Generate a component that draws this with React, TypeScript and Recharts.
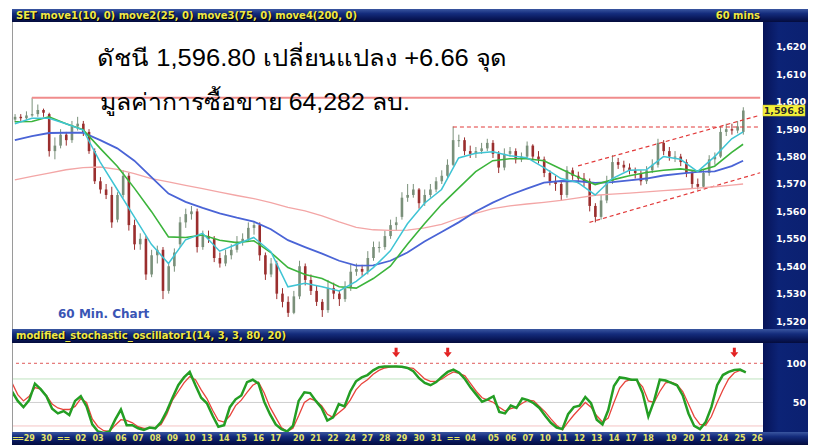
import React from 'react';
import { ComposedChart, Bar, Line, XAxis, YAxis, ReferenceLine, ReferenceDot } from 'recharts';

// ---------------- data ----------------
const openP = [
  1593.5, 1594.5, 1594, 1595, 1595.5, 1597, 1595.5, 1582, 1584, 1588,
  1586, 1591, 1592, 1589, 1582, 1571, 1568, 1566, 1557, 1566,
  1573, 1555, 1548, 1550, 1537, 1544, 1546, 1531, 1540, 1548,
  1556, 1559, 1560, 1547, 1551, 1550, 1543, 1541, 1544, 1546,
  1549, 1550, 1554, 1555, 1544, 1537, 1541, 1530, 1527, 1523,
  1529, 1540, 1535, 1531, 1527, 1524, 1532, 1530, 1528, 1532,
  1538, 1539, 1538, 1543, 1547, 1547, 1551, 1555, 1558, 1565,
  1566, 1568, 1563, 1566, 1568, 1571, 1573, 1577, 1586, 1586,
  1582, 1581, 1582, 1583, 1585, 1581, 1576, 1581, 1582, 1579,
  1580, 1584, 1580, 1579, 1574, 1571, 1570, 1566, 1575, 1573,
  1572, 1571, 1562, 1558, 1564, 1571, 1578, 1577, 1576, 1575,
  1574, 1571, 1575, 1577, 1585, 1582, 1580, 1580, 1578, 1574,
  1570, 1569, 1574, 1579, 1580, 1589, 1590, 1589.5, 1589,
];
const highP = [
  1595.5, 1595.5, 1596.5, 1601.5, 1599, 1597.5, 1596, 1587, 1590, 1589,
  1593, 1594.5, 1593, 1590, 1583, 1572.5, 1570, 1569, 1567, 1575,
  1574, 1557, 1552, 1551, 1546, 1547.5, 1547, 1541, 1546.5, 1558,
  1561, 1562, 1561, 1553, 1553, 1551, 1545, 1546, 1548, 1551,
  1552, 1556, 1556.5, 1556, 1545, 1543, 1542, 1532, 1529, 1531,
  1542, 1541, 1537, 1533, 1528, 1535, 1534, 1531, 1534.5, 1540.5,
  1541, 1540.5, 1545.5, 1549, 1549, 1553, 1557, 1558, 1567, 1570,
  1570, 1568.5, 1568, 1570, 1572.5, 1575, 1579, 1591, 1588, 1587,
  1584, 1583.5, 1585, 1586.5, 1586, 1582, 1583, 1583.5, 1583, 1581.5,
  1585.5, 1584.5, 1582, 1580, 1575, 1573, 1571, 1576.5, 1576, 1574.5,
  1574, 1572, 1563, 1566, 1573, 1580.5, 1579.5, 1578.5, 1577.5, 1576,
  1575, 1576.5, 1579, 1586.5, 1586, 1583.5, 1582, 1581, 1579, 1575,
  1572, 1575.5, 1580.5, 1581.5, 1591, 1592, 1592, 1593, 1598,
];
const lowP = [
  1592.5, 1593, 1593.5, 1594.5, 1594.5, 1594.5, 1580, 1579, 1583, 1584,
  1585, 1589.5, 1587.5, 1581, 1570, 1566.5, 1564.5, 1554, 1556, 1565,
  1553, 1546, 1546, 1535, 1536, 1541, 1528, 1530, 1538, 1547,
  1554, 1557, 1545, 1546, 1548.5, 1541.5, 1539.5, 1540, 1542.5, 1545,
  1547.5, 1549, 1551.5, 1542, 1535, 1536, 1528, 1525, 1521.5, 1522.5,
  1528, 1533, 1529.5, 1525.5, 1521.5, 1523, 1528, 1525.5, 1527, 1531,
  1536.5, 1536.5, 1537, 1542, 1545, 1546, 1550, 1553, 1557, 1563.5,
  1565, 1561, 1562, 1565, 1567, 1570, 1572, 1576.5, 1583.5, 1580.5,
  1579.5, 1579.5, 1581, 1582, 1579.5, 1574, 1575, 1580, 1577.5, 1578,
  1579, 1578.5, 1577.5, 1572.5, 1569.5, 1567.5, 1564, 1565, 1571.5, 1570,
  1569, 1560, 1556, 1557, 1563, 1570, 1575.5, 1574.5, 1573.5, 1572,
  1569.5, 1570, 1574, 1576, 1580.5, 1578.5, 1578, 1576.5, 1572.5, 1568.5,
  1568, 1568.5, 1573, 1577, 1579.5, 1587.5, 1588, 1588.5, 1588,
];
const closeP = [
  1594.5, 1594, 1595, 1595.5, 1597, 1596, 1582, 1584, 1588, 1586,
  1591, 1592, 1589, 1582, 1571, 1568, 1566, 1556, 1566, 1573,
  1555, 1548, 1550, 1537, 1544, 1546, 1531, 1540, 1545, 1556,
  1559, 1560, 1547, 1551, 1550, 1543, 1541, 1544, 1546, 1549,
  1550, 1554, 1555, 1544, 1537, 1541, 1530, 1527, 1523, 1529,
  1540, 1535, 1531, 1527, 1524, 1532, 1530, 1528, 1532, 1538,
  1539, 1538, 1543, 1547, 1547, 1551, 1555, 1556, 1565, 1566,
  1568, 1563, 1566, 1568, 1571, 1573, 1577, 1586, 1586, 1582,
  1581, 1582, 1583, 1585, 1581, 1576, 1581, 1582, 1579, 1580,
  1584, 1580, 1579, 1574, 1571, 1570, 1566, 1575, 1573, 1572,
  1571, 1562, 1558, 1564, 1571, 1578, 1577, 1576, 1575, 1574,
  1571, 1575, 1577, 1585, 1582, 1580, 1580, 1578, 1574, 1570,
  1569, 1574, 1579, 1580, 1589, 1590, 1589.5, 1591, 1596.8,
];

// moving averages, read at these bar positions
const maIdx = [
  0, 3, 6, 9, 12, 15, 18, 21, 24, 27, 30, 33, 36, 39, 42, 45, 48, 51, 54, 57, 60, 63,
  66, 69, 72, 75, 78, 81, 84, 87, 90, 93, 96, 99, 102, 105, 108, 111, 114, 117, 120, 123, 126, 128,
];
const ma10 = [
  1592, 1594, 1594, 1592, 1589.7, 1578, 1568, 1558, 1548, 1541, 1549.6, 1552, 1545.5, 1548, 1550.5,
  1545.3, 1532.5, 1533.8, 1532.5, 1531, 1534.5, 1539.5, 1545.6, 1555.5, 1563, 1568, 1579.5, 1581.2,
  1581.8, 1580.3, 1579.6, 1576, 1572, 1570.5, 1566, 1572, 1575, 1575.2, 1580, 1579, 1574.5, 1580,
  1586.5, 1589,
];
const ma25 = [
  1592.7, 1592.8, 1594.5, 1592, 1589.8, 1583, 1576.5, 1568.5, 1560, 1550.7, 1550.5, 1551.4, 1549.5,
  1548.6, 1549.3, 1545, 1539.5, 1537, 1535.5, 1532.5, 1532, 1535.5, 1540, 1548, 1555.5, 1562.5,
  1568.5, 1574.5, 1578.5, 1579.2, 1579.2, 1578.5, 1575.5, 1572.5, 1569.8, 1571.5, 1573, 1574.2,
  1575, 1575.5, 1574.7, 1576.5, 1581.5, 1584.5,
];
const ma75 = [
  1586, 1587.5, 1588.6, 1588.7, 1588.7, 1586, 1583, 1578.5, 1572.5, 1566.5, 1563.5, 1561.3, 1559.3,
  1557.7, 1556.3, 1553.5, 1549.5, 1547, 1544.6, 1542, 1540.2, 1540.3, 1542, 1545, 1549, 1552.5,
  1556, 1560, 1563.2, 1566, 1568.3, 1570.5, 1571.1, 1571, 1570.4, 1570.7, 1571.3, 1572, 1573.1,
  1573.8, 1574.4, 1574.6, 1576.5, 1578.5,
];
const ma200 = [
  1571.5, 1572.8, 1574, 1575.2, 1576, 1576.2, 1575.3, 1573.8, 1572, 1570.8, 1569.5, 1568.3, 1567,
  1565.8, 1564.7, 1563.2, 1561.5, 1560.2, 1558.4, 1556.2, 1554.2, 1553.3, 1553.1, 1553.2, 1554,
  1555.3, 1557.5, 1559.3, 1561, 1562, 1562.7, 1563.3, 1564, 1564.9, 1565.9, 1566.3, 1566.7, 1567.1,
  1567.6, 1568, 1568.5, 1569, 1569.6, 1570,
];

// modified stochastic %K (green) and %D (red)
const stochK = [
  64, 52, 44, 53, 74, 67, 58, 42, 36, 39,
  34, 52, 58, 45, 22, 13, 11, 13, 28, 41,
  21, 21, 17, 15, 18, 17, 25, 39, 56, 72,
  82, 89, 72, 56, 49, 33, 19, 21, 44, 54,
  59, 76, 79, 74, 51, 35, 22, 16, 13, 20,
  52, 63, 62, 52, 43, 27, 31, 48, 45, 64,
  77, 82, 85, 91, 95, 96, 96, 96, 95.5, 94,
  90, 81, 75, 72, 76, 83, 89, 92, 88, 80,
  69, 60, 51, 54, 58, 38, 36, 46, 43, 55,
  53, 49, 43, 33, 24, 18, 16, 35, 44, 46,
  57, 49, 28, 22, 40, 71, 82, 81, 79, 79,
  62, 32, 52, 79, 78, 75, 72, 59, 36, 20,
  16, 25, 44, 72, 85, 89, 91.5, 92, 88.5,
];
const stochD = [
  75, 60, 52, 58, 69, 67, 59, 48, 43, 41,
  41, 45, 55, 50, 29, 19, 14, 13, 21, 28,
  27, 24, 19, 17, 17, 18, 22, 35, 53, 64,
  75, 83, 79, 66, 55, 40, 27, 25, 33, 46,
  53, 63, 72, 76, 62, 44, 31, 18, 13, 17,
  33, 50, 55, 52, 46, 35, 31, 37, 43, 53,
  66, 74, 79, 86, 91, 94, 95.5, 96, 95.5, 94.5,
  93.5, 87, 80, 77, 77, 80, 85, 89, 87, 84,
  74, 64, 56, 53, 50, 44, 39, 42, 44, 49,
  53, 52, 45, 38, 29, 21, 15, 25, 34, 42,
  50, 44, 33, 25, 30, 50, 68, 77, 79.5, 78,
  70, 52, 50, 64, 75, 76, 73, 64, 48, 32,
  22, 21, 32, 50, 66, 80, 88, 91, 89,
];

const categoryCount = 132; // bars plus empty space at the right edge
const dayTickIdx = [
  0, 3, 6, 9, 12, 15, 19, 22, 25, 28, 31, 34, 37, 40, 43, 46, 50, 53, 56, 59, 62, 65,
  68, 71, 74, 77, 80, 84, 87, 90, 93, 96, 99, 102, 105, 108, 111, 115, 118, 121, 124, 127, 130,
];
const dayTickLabels = [
  '==', '29', '30', '==', '02', '03', '06', '07', '08', '09', '10', '13', '14', '15', '16', '17',
  '20', '21', '22', '24', '27', '28', '29', '30', '31', '==', '04', '05', '06', '07', '10', '11',
  '12', '13', '14', '17', '18', '19', '20', '21', '24', '25', '26',
];
const priceTicks = [1520, 1530, 1540, 1550, 1560, 1570, 1580, 1590, 1600, 1610, 1620];
const lastPrice = 1596.8;
const stochTicks = [50, 100];
const arrowIdx = [67, 76, 126];
const arrowLevel = 113.5;

// trend lines [x index, price]
const resistance = [{ x: 3, y: 1601.5 }, { x: 131, y: 1601.5 }];
const flatTop = [{ x: 77, y: 1590.8 }, { x: 131, y: 1590.8 }];
const channelUp = [{ x: 99, y: 1576.6 }, { x: 131, y: 1595.1 }];
const channelLow = [{ x: 101, y: 1556.0 }, { x: 131, y: 1574.1 }];

const titleLine1 = 'ดัชนี 1,596.80 เปลี่ยนแปลง +6.66 จุด';
const titleLine2 = 'มูลค่าการซื้อขาย 64,282 ลบ.';

// ---------------- build rows ----------------
const rows = Array.from({ length: categoryCount }, (_, i) => {
  const m = maIdx.indexOf(i);
  const has = i < closeP.length;
  return {
    i,
    range: has ? [lowP[i], highP[i]] : null,
    o: has ? openP[i] : null,
    h: has ? highP[i] : null,
    l: has ? lowP[i] : null,
    c: has ? closeP[i] : null,
    ma10: m >= 0 ? ma10[m] : null,
    ma25: m >= 0 ? ma25[m] : null,
    ma75: m >= 0 ? ma75[m] : null,
    ma200: m >= 0 ? ma200[m] : null,
    k: has ? stochK[i] : null,
    d: has ? stochD[i] : null,
  };
});

const UI_FONT = '"DejaVu Sans", Verdana, sans-serif';
const THAI_FONT = '"Liberation Sans", Arial, sans-serif';
const fmt = (v: number) => v.toLocaleString('en-US');

const Candle = (props: any) => {
  const { x, y, width, height, payload } = props;
  if (!payload || payload.c == null || x == null) return <g />;
  const { o, h, l, c } = payload;
  const top = Math.min(y, y + height);
  const bot = Math.max(y, y + height);
  const ppu = h - l > 0 ? (bot - top) / (h - l) : 0;
  const yOf = (v: number) => top + (h - v) * ppu;
  const cx = x + width / 2;
  const up = c >= o;
  const color = up ? '#7a907a' : '#9a2e2e';
  const bTop = yOf(Math.max(o, c));
  const bBot = yOf(Math.min(o, c));
  const bw = 2.6;
  return (
    <g>
      <line x1={cx} x2={cx} y1={top} y2={bot} stroke={color} strokeWidth={1} />
      <rect x={cx - bw / 2} y={bTop} width={bw} height={Math.max(1, bBot - bTop)} fill={color} />
    </g>
  );
};

const PriceTick = (props: any) => {
  const { y, payload } = props;
  const v = payload.value;
  if (v === lastPrice) {
    return (
      <g>
        <rect x={751} y={y - 5.5} width={42} height={11} fill="#f4f23a" stroke="#c8b820" strokeWidth={0.5} />
        <text x={792} y={y + 3.5} textAnchor="end" fontFamily={UI_FONT} fontWeight="bold" fontSize={9.5} fill="#2a2a2a">
          {v.toFixed(1).replace(/^(\d)(\d{3})/, '$1,$2')}
        </text>
      </g>
    );
  }
  return (
    <text x={794} y={y + 3.5} textAnchor="end" fontFamily={UI_FONT} fontWeight="bold" fontSize={9.5} fill="#ffffff">
      {fmt(v)}
    </text>
  );
};

const StochTick = (props: any) => {
  const { y, payload } = props;
  return (
    <text x={794} y={y + 3.5} textAnchor="end" fontFamily={UI_FONT} fontWeight="bold" fontSize={9.5} fill="#ffffff">
      {payload.value}
    </text>
  );
};

const DayTick = (props: any) => {
  const { x, payload } = props;
  const pos = dayTickIdx.indexOf(payload.value);
  if (pos < 0) return <g />;
  const atEdge = x < 7;
  return (
    <text
      x={atEdge ? 0 : x}
      y={98}
      textAnchor={atEdge ? 'start' : 'middle'}
      letterSpacing={atEdge ? -1.5 : 0}
      fontFamily={UI_FONT}
      fontWeight="bold"
      fontSize={8}
      fill="#e6e46a"
    >
      {dayTickLabels[pos]}
    </text>
  );
};

const Arrow = (props: any) => {
  const { cx, cy } = props;
  if (cx == null) return <g />;
  return (
    <g fill="#e32222">
      <rect x={cx - 1.5} y={cy - 5} width={3} height={5} />
      <path d={`M${cx - 4},${cy - 0.5} L${cx + 4},${cy - 0.5} L${cx},${cy + 4.5} Z`} />
    </g>
  );
};

const barBg = 'linear-gradient(to bottom, #3a56a0 0%, #142c7c 35%, #081656 75%, #040c3c 100%)';
const panelBg = 'linear-gradient(to right, #061358 0%, #0c2376 35%, #0b2070 100%)';

const abs = (l: number, t: number, w: number, h: number, extra: any = {}) => ({
  position: 'absolute' as const, left: l, top: t, width: w, height: h, ...extra,
});

const barText = { color: '#efe848', fontSize: 10, fontWeight: 'bold', textShadow: '1px 1px 0 #000', whiteSpace: 'nowrap' };

export default function App() {
  return (
    <div style={abs(0, 0, 813, 445, { background: '#ffffff', overflow: 'hidden', fontFamily: UI_FONT })}>
      {/* header bar */}
      <div style={abs(12, 9, 796, 13, { background: barBg })} />
      <div style={abs(16, 9, 500, 13, { ...barText, lineHeight: '13px' })}>
        SET move1(10, 0) move2(25, 0) move3(75, 0) move4(200, 0)
      </div>
      <div style={abs(690, 9, 70, 13, { ...barText, lineHeight: '13px', textAlign: 'right' })}>
        60 mins
      </div>

      {/* right axis panels */}
      <div style={abs(763, 22, 45, 307, { background: panelBg })} />
      <div style={abs(763, 343, 45, 89, { background: panelBg })} />

      {/* separator bar */}
      <div style={abs(12, 329, 796, 14, { background: barBg })} />
      <div style={abs(16, 329, 500, 14, { ...barText, lineHeight: '14px' })}>
        modified_stochastic_oscillator1(14, 3, 3, 80, 20)
      </div>

      {/* bottom date bar */}
      <div style={abs(12, 432, 796, 13, { background: barBg })} />

      {/* main price chart */}
      <div style={abs(12, 22, 796, 307)}>
        <ComposedChart width={796} height={307} data={rows} margin={{ top: 0, right: 0, bottom: 0, left: 0 }}>
          <XAxis dataKey="i" hide />
          <YAxis
            orientation="right"
            width={45}
            domain={[1517.1, 1629.1]}
            allowDataOverflow
            ticks={[...priceTicks, lastPrice]}
            interval={0}
            axisLine={false}
            tickLine={false}
            tick={(p: any) => <PriceTick {...p} />}
          />
          <ReferenceLine segment={resistance} stroke="#f08c8c" strokeWidth={2} />
          <ReferenceLine segment={flatTop} stroke="#e23a3a" strokeWidth={1.2} strokeDasharray="4 3" />
          <ReferenceLine segment={channelUp} stroke="#e23a3a" strokeWidth={1.2} strokeDasharray="4 3" />
          <ReferenceLine segment={channelLow} stroke="#e23a3a" strokeWidth={1.2} strokeDasharray="4 3" />
          <Line dataKey="ma200" stroke="#f3a6a6" strokeWidth={1.3} dot={false} connectNulls isAnimationActive={false} />
          <Line dataKey="ma75" stroke="#4a64d6" strokeWidth={1.8} dot={false} connectNulls isAnimationActive={false} />
          <Bar dataKey="range" shape={(p: any) => <Candle {...p} />} isAnimationActive={false} />
          <Line dataKey="ma25" stroke="#3cb43c" strokeWidth={1.6} dot={false} connectNulls isAnimationActive={false} />
          <Line dataKey="ma10" stroke="#3fc4d4" strokeWidth={1.5} dot={false} connectNulls isAnimationActive={false} />
        </ComposedChart>
      </div>

      {/* stochastic oscillator */}
      <div style={abs(12, 343, 796, 102)}>
        <ComposedChart width={796} height={102} data={rows} margin={{ top: 0, right: 0, bottom: 0, left: 0 }}>
          <XAxis dataKey="i" interval={0} height={13} axisLine={false} tickLine={false} tick={(p: any) => <DayTick {...p} />} />
          <YAxis
            orientation="right"
            width={45}
            domain={[12.3, 125.9]}
            allowDataOverflow
            ticks={stochTicks}
            interval={0}
            axisLine={false}
            tickLine={false}
            tick={(p: any) => <StochTick {...p} />}
          />
          <ReferenceLine y={100} stroke="#e05a5a" strokeWidth={1} strokeDasharray="3 3" />
          <ReferenceLine y={80} stroke="#bfe3bf" strokeWidth={1} />
          <ReferenceLine y={50} stroke="#cfcfcf" strokeWidth={1} />
          <ReferenceLine y={20} stroke="#f4c4c4" strokeWidth={1} />
          <Line dataKey="d" stroke="#e8443c" strokeWidth={1.3} dot={false} isAnimationActive={false} />
          <Line dataKey="k" stroke="#249e24" strokeWidth={2.5} dot={false} isAnimationActive={false} />
          {arrowIdx.map((ix) => (
            <ReferenceDot key={ix} x={ix} y={arrowLevel} r={0} shape={(p: any) => <Arrow {...p} />} />
          ))}
        </ComposedChart>
      </div>

      {/* overlay texts */}
      <svg style={abs(0, 0, 813, 445, { pointerEvents: 'none' })} width={813} height={445}>
        <line x1={12.5} x2={12.5} y1={22} y2={329} stroke="#9a9a9a" strokeWidth={1} />
        <line x1={12.5} x2={12.5} y1={343} y2={432} stroke="#9a9a9a" strokeWidth={1} />
        <text x={97} y={66} fontFamily={THAI_FONT} fontSize={23} fill="#000" textLength={410} lengthAdjust="spacingAndGlyphs">
          {titleLine1}
        </text>
        <text x={100} y={110} fontFamily={THAI_FONT} fontSize={23} fill="#000" textLength={310} lengthAdjust="spacingAndGlyphs">
          {titleLine2}
        </text>
        <text x={58} y={318} fontFamily={UI_FONT} fontWeight="bold" fontSize={12} fill="#3a55b5">
          60 Min. Chart
        </text>
      </svg>
    </div>
  );
}
